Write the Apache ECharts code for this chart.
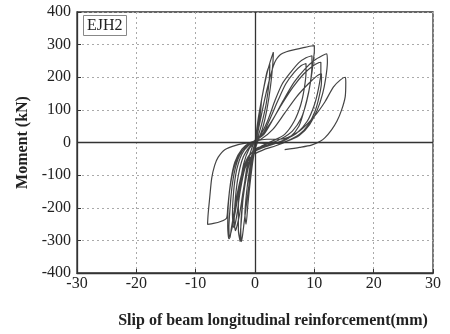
<!DOCTYPE html>
<html>
<head>
<meta charset="utf-8">
<script src="https://cdn.jsdelivr.net/npm/echarts@6/dist/echarts.min.js"></script>
<style>html,body{margin:0;padding:0;background:#fff}#c{width:450px;height:334px}</style>
</head>
<body>
<div id="c"></div>
<script>
// Tick settings
const xTicks = [-30, -20, -10, 0, 10, 20, 30];
const yTicks = [-400, -300, -200, -100, 0, 100, 200, 300, 400];
const specimenLabel = 'EJH2';
const xName = 'Slip of beam longitudinal reinforcement(mm)';
const yName = 'Moment (kN)';

// Hysteresis cycles: [slip (mm), moment (kN)]
const cycle1 = [[0,0],[0.4,50],[0.9,110],[1.1,130],[0.9,90],[0.4,30],[-0.1,-20],[-0.5,-70],[-0.9,-120],[-1.0,-135],[-0.9,-90],[-0.4,-40],[0,0]];
const cycle1b = [[0.6,80],[1.4,160],[2.0,215],[2.5,240],[2.4,190],[1.9,120],[1.1,55],[0.4,10],[-0.3,-50],[-0.8,-120],[-1.2,-190],[-1.5,-250],[-1.7,-220],[-1.4,-150],[-0.9,-80],[-0.3,-20],[0.2,10]];
const cycle2 = [[0.5,60],[1.2,140],[2.0,210],[2.6,250],[3.1,277],[3.0,240],[2.6,170],[2.0,100],[1.3,45],[0.5,5],[-0.3,-40],[-0.8,-100],[-1.3,-170],[-1.8,-240],[-2.1,-285],[-2.3,-304],[-2.4,-270],[-2.2,-200],[-1.8,-130],[-1.2,-60],[-0.4,-10],[0.2,10]];
const cycle3 = [[0.8,60],[1.6,130],[2.4,190],[3.1,235],[3.6,255],[4.3,270],[5.3,278],[6.5,284],[8.0,290],[9.2,295],[10.0,297],[10.0,280],[9.9,262],[9.6,215],[9.1,160],[8.3,100],[7.4,50],[5.8,15],[4.0,0],[2.0,-8],[0.3,-18],[-0.9,-40],[-1.8,-80],[-2.6,-140],[-3.3,-210],[-3.9,-265],[-4.3,-289],[-4.4,-260],[-4.2,-200],[-3.9,-140],[-3.4,-85],[-2.6,-40],[-1.4,-10],[0,5]];
const cycle4 = [[1.0,25],[2.2,70],[3.4,130],[4.6,180],[6.0,215],[7.4,245],[8.6,260],[9.6,266],[9.6,235],[9.3,180],[8.7,125],[7.8,75],[6.3,35],[4.5,12],[2.5,-5],[0.5,-20],[-0.7,-50],[-1.4,-100],[-2.0,-170],[-2.3,-240],[-2.5,-290],[-2.5,-304],[-2.8,-270],[-2.8,-200],[-2.5,-130],[-1.9,-65],[-1.0,-20],[0.2,5]];
const cycle5 = [[1.3,25],[2.6,75],[3.9,130],[5.2,180],[6.6,215],[7.8,236],[8.6,242],[8.6,215],[8.3,165],[7.7,115],[6.6,65],[5.0,25],[3.0,5],[1.0,-12],[-0.4,-35],[-1.3,-80],[-2.0,-150],[-2.6,-220],[-3.1,-260],[-3.3,-270],[-3.5,-240],[-3.3,-170],[-2.8,-100],[-2.0,-45],[-0.8,-10],[0.3,8]];
const cycle6 = [[1.5,25],[3.0,70],[4.8,130],[6.6,185],[8.4,225],[10.0,252],[11.3,266],[12.1,272],[12.2,245],[11.9,195],[11.4,150],[10.5,100],[9.2,55],[7.5,22],[5.5,5],[3.5,-3],[1.5,-3],[-0.5,0],[-1.5,-2],[-3.1,-8],[-5.1,-22],[-6.2,-45],[-6.8,-70],[-7.3,-110],[-7.6,-163],[-7.9,-220],[-8.0,-251],[-7.0,-248],[-5.8,-242],[-4.8,-232],[-4.6,-200],[-4.3,-150],[-3.8,-95],[-3.0,-50],[-1.8,-18],[-0.5,0]];
const cycle7 = [[1.0,20],[2.8,65],[4.6,120],[6.4,170],[8.2,210],[9.8,235],[10.8,245],[11.1,246],[11.1,215],[10.7,165],[10.0,115],[8.8,65],[7.0,28],[5.0,8],[3.0,-6],[1.0,-18],[-0.8,-35],[-1.9,-75],[-2.8,-140],[-3.5,-210],[-4.0,-265],[-4.2,-290],[-4.4,-295],[-4.6,-260],[-4.5,-190],[-4.1,-120],[-3.4,-60],[-2.2,-20],[-0.8,0]];
const cycle8 = [[1.0,10],[3.0,40],[5.0,90],[7.0,140],[9.0,180],[10.5,205],[11.2,211],[11.2,185],[10.8,140],[10.1,95],[9.0,55],[7.5,25],[5.5,5],[3.5,-10],[1.5,-22],[-0.5,-40],[-1.7,-80],[-2.5,-150],[-3.0,-215],[-3.4,-255],[-3.6,-260],[-3.8,-220],[-3.6,-150],[-3.1,-85],[-2.2,-35],[-1.0,-8],[0.3,5]];
const cycle9 = [[2.0,10],[4.0,10],[5.5,15],[7.5,35],[10.0,80],[11.8,125],[13.2,170],[14.4,192],[15.2,200],[15.3,185],[15.2,140],[14.6,100],[13.8,65],[12.9,39],[11.8,15],[11.0,4],[9.5,-8],[7.5,-15],[5.0,-22]];

const cycles = [cycle1, cycle1b, cycle2, cycle3, cycle4, cycle5, cycle6, cycle7, cycle8, cycle9];
const curve = [].concat(...cycles);

const serif = '"Liberation Serif","Times New Roman",serif';
const chart = echarts.init(document.getElementById('c'), null, {renderer: 'canvas'});
chart.setOption({
  animation: false,
  backgroundColor: '#fff',
  title: {
    text: specimenLabel,
    left: 83, top: 15,
    padding: [3, 4, 2, 4],
    borderColor: '#888', borderWidth: 1,
    textStyle: {fontFamily: serif, fontSize: 16, fontWeight: 'normal', color: '#222'}
  },
  grid: {left: 77, right: 17, top: 12, bottom: 59, show: true, borderColor: '#333', borderWidth: 1.3, backgroundColor: 'transparent'},
  xAxis: {
    type: 'value', min: xTicks[0], max: xTicks[xTicks.length - 1], interval: 10,
    name: xName, nameLocation: 'middle', nameGap: 40,
    nameTextStyle: {fontFamily: serif, fontSize: 16, fontWeight: 'bold', color: '#222', padding: [0, 0, 0, 36]},
    axisLine: {show: true, onZero: false, lineStyle: {color: '#333', width: 1.3}},
    axisTick: {show: true, inside: true, length: 4, lineStyle: {color: '#333'}},
    axisLabel: {fontFamily: serif, fontSize: 16, color: '#222', margin: 3},
    splitLine: {show: true, lineStyle: {color: '#aaa', type: [2, 3], width: 1}}
  },
  yAxis: {
    type: 'value', min: yTicks[0], max: yTicks[yTicks.length - 1], interval: 100,
    name: yName, nameLocation: 'middle', nameGap: 46,
    nameTextStyle: {fontFamily: serif, fontSize: 16, fontWeight: 'bold', color: '#222'},
    axisLine: {show: true, onZero: false, lineStyle: {color: '#333', width: 1.3}},
    axisTick: {show: true, inside: true, length: 4, lineStyle: {color: '#333'}},
    axisLabel: {fontFamily: serif, fontSize: 16, color: '#222', margin: 6},
    splitLine: {show: true, lineStyle: {color: '#aaa', type: [2, 3], width: 1}}
  },
  series: [{
    type: 'line',
    data: curve,
    showSymbol: false,
    smooth: 0.25,
    lineStyle: {color: '#444', width: 1.2},
    markLine: {
      silent: true, symbol: 'none', label: {show: false},
      lineStyle: {color: '#333', width: 1.3, type: 'solid'},
      data: [{xAxis: 0}, {yAxis: 0}]
    }
  }]
});
</script>
</body>
</html>
